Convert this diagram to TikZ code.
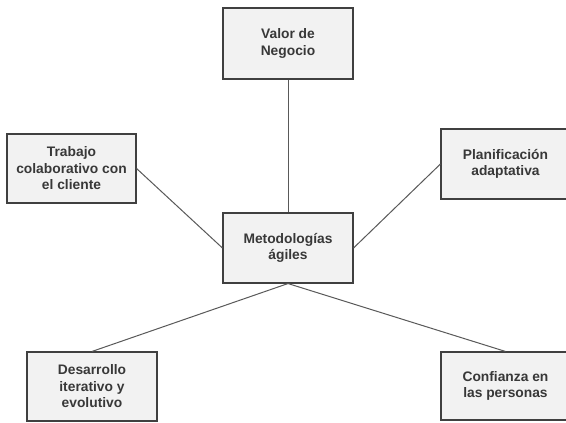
\documentclass[tikz,border=0pt]{standalone}
\usepackage{fontspec}
\setmainfont{Liberation Sans}
\begin{document}
\begin{tikzpicture}[x=1pt,y=-1pt,
  box/.style={draw=black!75, line width=1.1pt, fill=black!5, inner sep=0pt,
    align=center, font=\fontsize{13.8}{16.5}\selectfont\bfseries, text=black!78},
  link/.style={draw=black!65, line width=1pt}]
\clip (0,0) rectangle (566,423);
\fill[white] (0,0) rectangle (566,423);
\node[box, minimum width=130pt, minimum height=71pt] (valor) at (288,43.5) {Valor de\\Negocio};
\node[box, minimum width=129pt, minimum height=69pt] (trab) at (71.5,168.5) {Trabajo\\colaborativo con\\el cliente};
\node[box, minimum width=129pt, minimum height=70pt] (plan) at (505.5,164) {Planificación\\adaptativa};
\node[box, minimum width=130pt, minimum height=70pt] (metod) at (288,248) {Metodologías\\ágiles};
\node[box, minimum width=130pt, minimum height=69pt] (desa) at (92,386.5) {Desarrollo\\iterativo y\\evolutivo};
\node[box, minimum width=129pt, minimum height=68pt] (conf) at (505.5,386) {Confianza en\\las personas};
\draw[link] (valor.south) -- (metod.north);
\draw[link] (trab.east) -- (metod.west);
\draw[link] (plan.west) -- (metod.east);
\draw[link] (metod.south) -- (desa.north);
\draw[link] (metod.south) -- (conf.north);
\end{tikzpicture}
\end{document}
